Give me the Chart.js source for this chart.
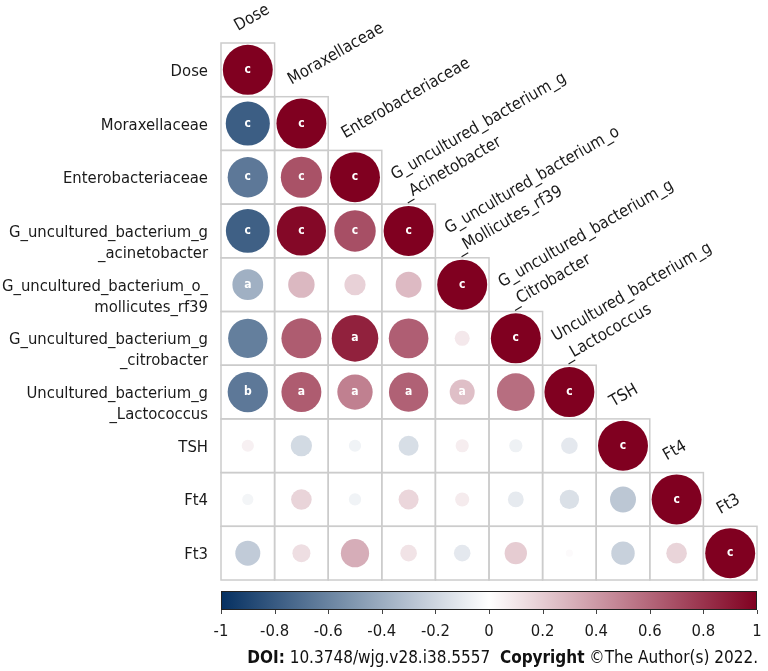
<!DOCTYPE html>
<html>
<head>
<meta charset="utf-8">
<script src="https://cdn.jsdelivr.net/npm/chart.js@4.4.1/dist/chart.umd.min.js"></script>
<style>
  html, body { margin: 0; padding: 0; background: #ffffff; }
  #wrap { position: relative; width: 768px; height: 671px; background: #ffffff; overflow: hidden; }
  #main { position: absolute; left: 0; top: 0; width: 768px; height: 671px; }
  #bar { position: absolute; left: 0; top: 580px; width: 768px; height: 66px; }
  #doi { position: absolute; right: 10px; top: 647px; font-family: 'DejaVu Sans Condensed', 'DejaVu Sans', sans-serif; font-size: 17px; line-height: 20px; color: #111; white-space: pre; }
</style>
</head>
<body>
<div id="wrap">
  <div id="main"><canvas id="c1"></canvas></div>
  <div id="bar"><canvas id="c2"></canvas></div>
  <div id="doi"><b>DOI:</b> 10.3748/wjg.v28.i38.5557  <b>Copyright</b> ©The Author(s) 2022.</div>
</div>
<script>
// ---------------- data ----------------
const rowLabels = [
  ["Dose"],
  ["Moraxellaceae"],
  ["Enterobacteriaceae"],
  ["G_uncultured_bacterium_g", "_acinetobacter"],
  ["G_uncultured_bacterium_o_", "mollicutes_rf39"],
  ["G_uncultured_bacterium_g", "_citrobacter"],
  ["Uncultured_bacterium_g", "_Lactococcus"],
  ["TSH"],
  ["Ft4"],
  ["Ft3"]
];
const colLabels = [
  ["Dose"],
  ["Moraxellaceae"],
  ["Enterobacteriaceae"],
  ["G_uncultured_bacterium_g", "_Acinetobacter"],
  ["G_uncultured_bacterium_o", "_Mollicutes_rf39"],
  ["G_uncultured_bacterium_g", "_Citrobacter"],
  ["Uncultured_bacterium_g", "_Lactococcus"],
  ["TSH"],
  ["Ft4"],
  ["Ft3"]
];
// lower-triangle correlation values, row by row (column 0..row)
const corrValues = [
  [1],
  [-0.78, 1],
  [-0.65, 0.68, 1],
  [-0.77, 0.97, 0.69, 1],
  [-0.38, 0.28, 0.18, 0.27, 1],
  [-0.62, 0.64, 0.87, 0.63, 0.09, 1],
  [-0.65, 0.64, 0.50, 0.62, 0.25, 0.57, 1],
  [0.06, -0.18, -0.06, -0.16, 0.07, -0.07, -0.11, 1],
  [-0.05, 0.17, -0.06, 0.16, 0.08, -0.10, -0.15, -0.27, 1],
  [-0.25, 0.13, 0.32, 0.11, -0.11, 0.20, 0.02, -0.22, 0.17, 1]
];
// significance letters
const sigLetters = [
  ["c"],
  ["c", "c"],
  ["c", "c", "c"],
  ["c", "c", "c", "c"],
  ["a", "", "", "", "c"],
  ["", "", "a", "", "", "c"],
  ["b", "a", "a", "a", "a", "", "c"],
  ["", "", "", "", "", "", "", "c"],
  ["", "", "", "", "", "", "", "", "c"],
  ["", "", "", "", "", "", "", "", "", "c"]
];
const colorbarTicks = [-1, -0.8, -0.6, -0.4, -0.2, 0, 0.2, 0.4, 0.6, 0.8, 1];
const colorbarTickLabels = ["-1", "-0.8", "-0.6", "-0.4", "-0.2", "0", "0.2", "0.4", "0.6", "0.8", "1"];

// ---------------- helpers ----------------
const FONT_FAMILY = "'DejaVu Sans Condensed', 'DejaVu Sans', sans-serif";
const LABEL_SIZE = 16.5;
const NEG = [5, 48, 97], POS = [128, 0, 32], MID = [255, 255, 255];
function corrColor(v) {
  const t = Math.min(1, Math.abs(v));
  const end = v < 0 ? NEG : POS;
  const c = MID.map((m, i) => Math.round(m + (end[i] - m) * t));
  return `rgb(${c[0]},${c[1]},${c[2]})`;
}
const points = [];
corrValues.forEach((row, i) => {
  row.forEach((v, j) => {
    points.push({ x: j + 0.5, y: i + 0.5, v: v, sig: sigLetters[i][j] });
  });
});
function cellPx(chart) {
  const s = chart.scales.x;
  return s.getPixelForValue(1) - s.getPixelForValue(0);
}
function pointRadius(c) {
  if (!c.raw || !c.chart.chartArea) return 0;
  return cellPx(c.chart) * 0.466 * Math.sqrt(Math.abs(c.raw.v));
}

const gridAndLabels = {
  id: 'gridAndLabels',
  beforeDatasetsDraw(chart) {
    const ctx = chart.ctx, xs = chart.scales.x, ys = chart.scales.y;
    ctx.save();
    ctx.strokeStyle = '#cccccc';
    ctx.lineWidth = 1.5;
    corrValues.forEach((row, i) => {
      row.forEach((v, j) => {
        const x0 = xs.getPixelForValue(j), x1 = xs.getPixelForValue(j + 1);
        const y0 = ys.getPixelForValue(i), y1 = ys.getPixelForValue(i + 1);
        ctx.strokeRect(x0, y0, x1 - x0, y1 - y0);
      });
    });
    ctx.restore();
  },
  afterDatasetsDraw(chart) {
    const ctx = chart.ctx, xs = chart.scales.x, ys = chart.scales.y;
    const meta = chart.getDatasetMeta(0);
    ctx.save();
    // significance letters
    ctx.fillStyle = '#ffffff';
    ctx.font = `600 12px ${FONT_FAMILY}`;
    ctx.textAlign = 'center';
    ctx.textBaseline = 'middle';
    meta.data.forEach((el, k) => {
      const p = points[k];
      if (p.sig) ctx.fillText(p.sig, el.x, el.y);
    });
    // row labels
    ctx.fillStyle = '#1a1a1a';
    ctx.font = `${LABEL_SIZE}px ${FONT_FAMILY}`;
    ctx.textAlign = 'right';
    ctx.textBaseline = 'alphabetic';
    const lx = chart.chartArea.left - 13;
    rowLabels.forEach((lines, i) => {
      const cy = ys.getPixelForValue(i + 0.5);
      if (lines.length === 1) {
        ctx.fillText(lines[0], lx, cy + 6);
      } else {
        ctx.fillText(lines[0], lx, cy + 6);
        ctx.fillText(lines[1], lx, cy + 27);
      }
    });
    // diagonal column labels
    ctx.textAlign = 'left';
    colLabels.forEach((lines, j) => {
      const left = xs.getPixelForValue(j), top = ys.getPixelForValue(j);
      ctx.save();
      if (lines.length === 1) {
        ctx.translate(left + 17, top - 12);
        ctx.rotate(-Math.PI / 6);
        ctx.fillText(lines[0], 0, 0);
      } else {
        ctx.translate(left + 13, top - 24);
        ctx.rotate(-Math.PI / 6);
        ctx.fillText(lines[0], 0, 0);
        ctx.fillText(lines[1], 0, 23);
      }
      ctx.restore();
    });
    ctx.restore();
  }
};

new Chart(document.getElementById('c1'), {
  type: 'scatter',
  data: {
    datasets: [{
      data: points,
      showLine: false,
      pointBackgroundColor: c => (c.raw ? corrColor(c.raw.v) : '#fff'),
      pointBorderWidth: 0,
      pointBorderColor: 'rgba(0,0,0,0)',
      pointRadius: pointRadius,
      pointHoverRadius: pointRadius
    }]
  },
  options: {
    responsive: true,
    maintainAspectRatio: false,
    animation: false,
    events: [],
    layout: { padding: { left: 221, right: 11, top: 43, bottom: 91 } },
    plugins: { legend: { display: false }, tooltip: { enabled: false } },
    scales: {
      x: { type: 'linear', min: 0, max: 10, display: false },
      y: { type: 'linear', min: 0, max: 10, reverse: true, display: false }
    }
  },
  plugins: [gridAndLabels]
});

// colour bar: chart area = bar; ticks and labels placed through the x scale
const colorbarDraw = {
  id: 'colorbarDraw',
  beforeDatasetsDraw(chart) {
    const ctx = chart.ctx, a = chart.chartArea, xs = chart.scales.x;
    const x0 = xs.getPixelForValue(-1), x1 = xs.getPixelForValue(1);
    const g = ctx.createLinearGradient(x0, 0, x1, 0);
    [-1, -0.75, -0.5, -0.25, 0, 0.25, 0.5, 0.75, 1].forEach(v => g.addColorStop((v + 1) / 2, corrColor(v)));
    ctx.save();
    ctx.fillStyle = g;
    ctx.fillRect(x0, a.top, x1 - x0, a.bottom - a.top);
    ctx.strokeStyle = '#222222';
    ctx.lineWidth = 1;
    ctx.strokeRect(x0 + 0.5, a.top + 0.5, x1 - x0 - 1, a.bottom - a.top - 1);
    // tick marks and labels
    ctx.strokeStyle = '#444444';
    ctx.fillStyle = '#1a1a1a';
    ctx.font = `16.5px ${FONT_FAMILY}`;
    ctx.textAlign = 'center';
    ctx.textBaseline = 'middle';
    colorbarTicks.forEach((v, i) => {
      const px = Math.round(xs.getPixelForValue(v)) + 0.5;
      ctx.beginPath();
      ctx.moveTo(px, a.bottom);
      ctx.lineTo(px, a.bottom + 4);
      ctx.stroke();
      ctx.fillText(colorbarTickLabels[i], xs.getPixelForValue(v), a.bottom + 22);
    });
    ctx.restore();
  }
};

new Chart(document.getElementById('c2'), {
  type: 'scatter',
  data: { datasets: [{ data: [] }] },
  options: {
    responsive: true,
    maintainAspectRatio: false,
    animation: false,
    events: [],
    layout: { padding: { left: 221, right: 11, top: 11, bottom: 36 } },
    plugins: { legend: { display: false }, tooltip: { enabled: false } },
    scales: {
      x: { type: 'linear', min: -1, max: 1, display: false },
      y: { type: 'linear', min: 0, max: 1, display: false }
    }
  },
  plugins: [colorbarDraw]
});
</script>
</body>
</html>
